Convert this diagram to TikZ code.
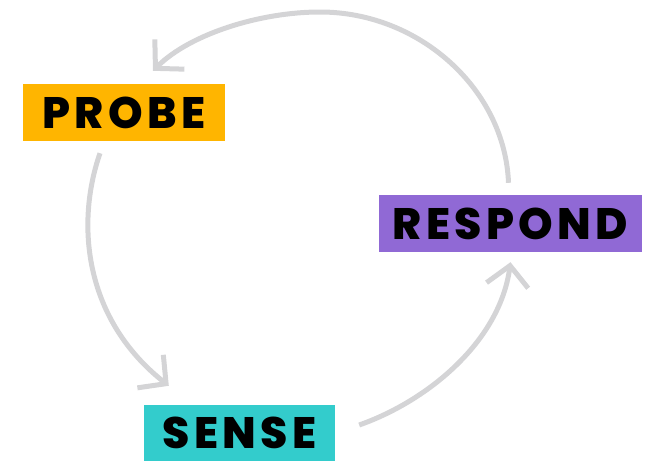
\documentclass[tikz,border=0pt]{standalone}
\usepackage{fontspec}
\IfFontExistsTF{Poppins ExtraBold}
  {\newfontfamily\stagefont{Poppins ExtraBold}[LetterSpace=10]}
  {\newfontfamily\stagefont{Poppins Bold}[LetterSpace=10, FakeBold=1.5]}
\usetikzlibrary{arrows.meta}
\definecolor{probecolor}{HTML}{FFB500}
\definecolor{sensecolor}{HTML}{33CCCC}
\definecolor{respondcolor}{HTML}{9069D5}
\definecolor{loopgray}{HTML}{D4D4D6}
\begin{document}
\begin{tikzpicture}
    [x=1pt, y=-1pt,
     stage/.style={inner sep=0pt, minimum height=57pt,
       font=\stagefont\fontsize{44}{44}\selectfont},
     cycle arrow/.style={draw=loopgray, line width=5pt,
       -{Straight Barb[length=20pt, width=42pt]}}]
    \useasboundingbox (0,0) rectangle (646,461);
    \node[stage, fill=probecolor, minimum width=202pt] (probe) at (124,112.5) {PROBE};
    \node[stage, fill=respondcolor, minimum width=263pt] (respond) at (510.5,223.5) {RESPOND};
    \node[stage, fill=sensecolor, minimum width=191pt, minimum height=56pt] (sense) at (239.5,433) {SENSE};
    % respond back to probe over the top
    \draw[cycle arrow] ([shift={(-2,-12)}]respond.north)
      .. controls (505,90) and (420,12) .. (320,12)
      .. controls (260,12) and (190,34) .. ([shift={(29,-13)}]probe.north);
    % probe down to sense
    \draw[cycle arrow] ([shift={(-24,12)}]probe.south)
      .. controls (75,225) and (85,320) .. ([shift={(25,-19)}]sense.north west);
    % sense up to respond
    \draw[cycle arrow] ([shift={(24,-8)}]sense.east)
      .. controls (430,400) and (500,340) .. ([shift={(0,10)}]respond.south);
\end{tikzpicture}
\end{document}
